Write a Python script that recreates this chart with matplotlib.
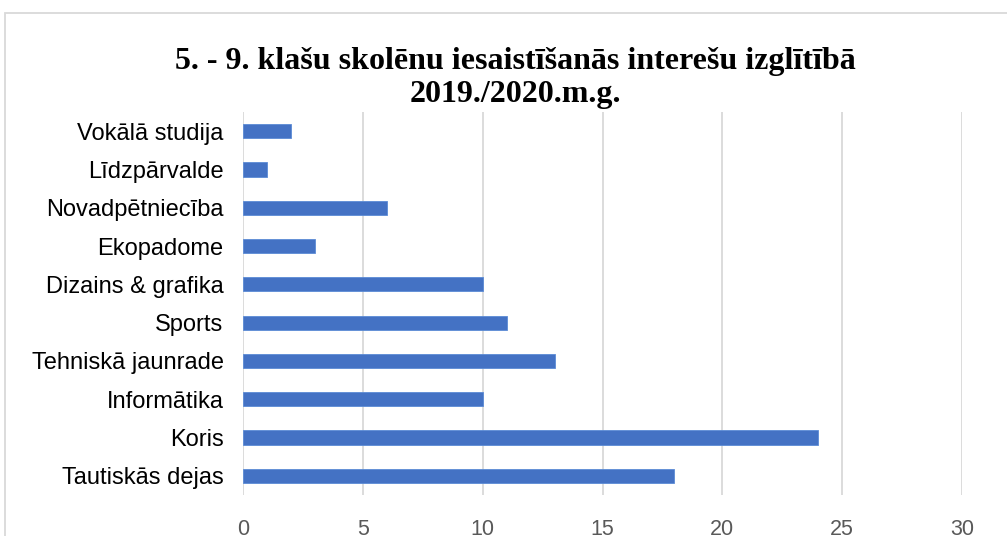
import matplotlib
matplotlib.use("Agg")
import matplotlib.pyplot as plt
from matplotlib.patches import Rectangle

categories = ["Tautiskās dejas", "Koris", "Informātika", "Tehniskā jaunrade", "Sports",
              "Dizains & grafika", "Ekopadome", "Novadpētniecība", "Līdzpārvalde", "Vokālā studija"]
values = [18, 24, 10, 13, 11, 10, 3, 6, 1, 2]
xticks = [0, 5, 10, 15, 20, 25, 30]
title = "5. - 9. klašu skolēnu iesaistīšanās interešu izglītībā\n2019./2020.m.g."

W, H = 1007, 536
fig = plt.figure(figsize=(W / 100, H / 100), dpi=100)
fig.patch.set_facecolor("white")

# chart area border
fig.add_artist(Rectangle((5 / W, -0.1), (W + 10) / W, (H - 13) / H + 0.1,
                         transform=fig.transFigure, fill=False,
                         edgecolor="#D9D9D9", linewidth=1.3))

ax = fig.add_axes([243 / W, 1 - 495 / H, (962 - 243) / W, (495 - 112) / H])
ax.barh(range(len(categories)), values, height=0.37, color="#4472C4",
        edgecolor="#5B8BD6", linewidth=0.6, zorder=3)
ax.set_xlim(0, 30)
ax.set_ylim(-0.5, len(categories) - 0.5)
ax.set_xticks(xticks)
ax.set_xticklabels([str(t) for t in xticks], fontsize=15.5, color="#595959",
                   family="Liberation Sans")
ax.set_yticks(range(len(categories)))
ax.set_yticklabels(categories, fontsize=17, color="#000000", family="Liberation Sans")
ax.tick_params(axis="both", length=0)
ax.tick_params(axis="x", pad=17)
ax.tick_params(axis="y", pad=14)
ax.grid(axis="x", color="#D9D9D9", linewidth=1.3, zorder=0)
for s in ax.spines.values():
    s.set_visible(False)

fig.text(515 / W, 1 - 78 / H, title, ha="center", va="center", fontsize=23,
         fontweight="bold", family="Liberation Serif", linespacing=1.2)

fig.savefig("out.png", dpi=100)
